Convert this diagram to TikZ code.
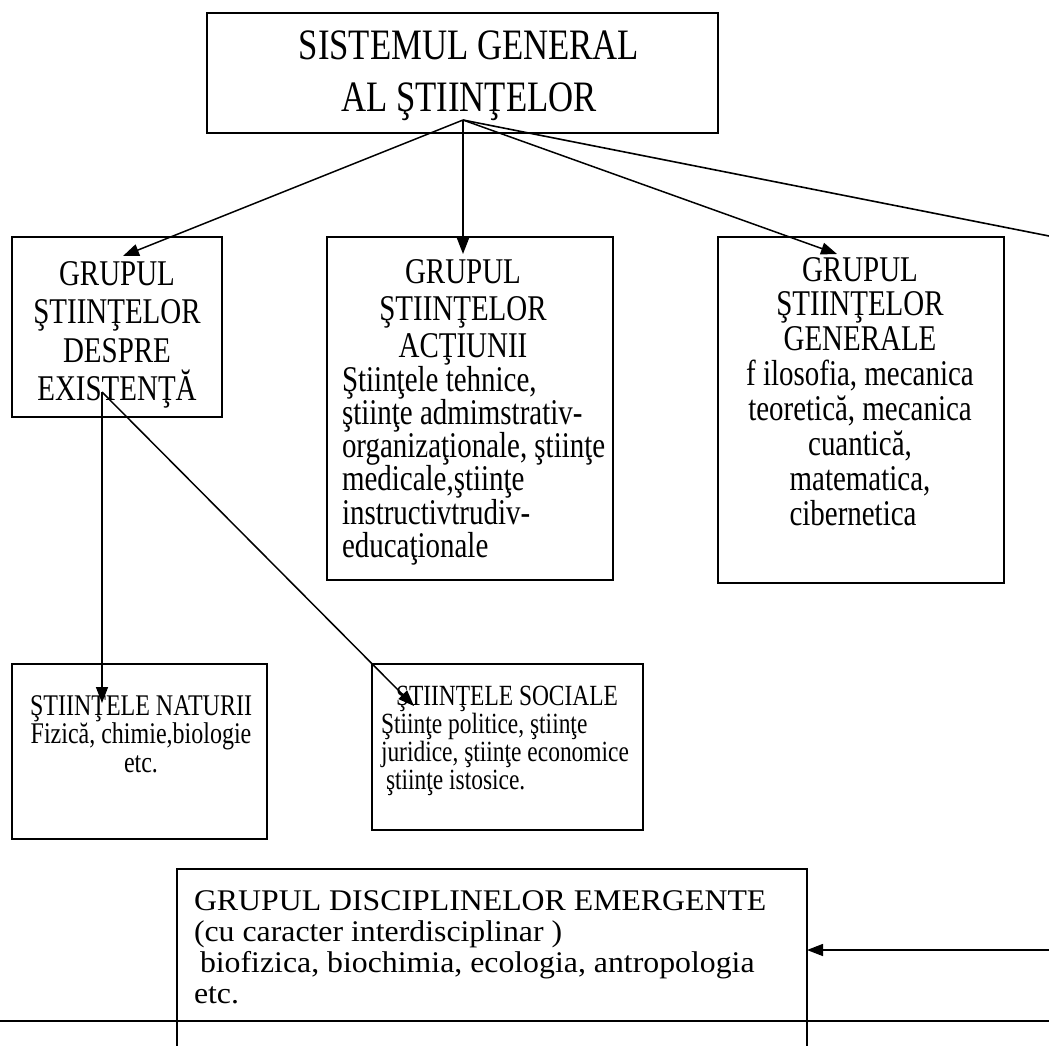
\documentclass[tikz,border=0pt]{standalone}
\usepackage{fontspec}
\setmainfont{Liberation Serif}[FakeStretch=0.8]
\newfontfamily\emfont{Liberation Serif}[FakeStretch=1.06]
\usetikzlibrary{arrows.meta}
\newcommand\mystrut{\rule{0pt}{48pt}}
\begin{document}
\begin{tikzpicture}[x=1pt,y=-1pt,
  box/.style={draw, line width=1.6pt, rectangle, inner sep=0pt, outer sep=0pt, anchor=north west},
  txt/.style={inner sep=0pt, outer sep=0pt, anchor=north},
  txtl/.style={inner sep=0pt, outer sep=0pt, anchor=north west, align=left},
  arr/.style={line width=1.5pt, -{Triangle[length=16pt,width=12pt]}},
  ln/.style={line width=1.6pt}]
\fill[white] (0,0) rectangle (1049,1045);
\useasboundingbox (0,0) rectangle (1049,1045);
\clip (0,0) rectangle (1049,1045);

% boxes
\node[box, minimum width=511pt, minimum height=120pt] (top) at (207,13) {};
\node[box, minimum width=210pt, minimum height=180pt] (exist) at (12,237) {};
\node[box, minimum width=286pt, minimum height=343pt] (actiune) at (327,237) {};
\node[box, minimum width=286pt, minimum height=346pt] (general) at (718,237) {};
\node[box, minimum width=255pt, minimum height=175pt] (natur) at (12,664) {};
\node[box, minimum width=271pt, minimum height=166pt] (social) at (372,664) {};
\node[box, minimum width=630pt, minimum height=230pt] (emer) at (177,869) {};

% texts (north = first baseline - 48)
\node[txt, align=center, font=\fontsize{43.4}{52}\selectfont] (ttop) at (469,11)
  {\mystrut SISTEMUL GENERAL\\AL ŞTIINŢELOR};
\node[txt, align=center, font=\fontsize{36.2}{38.5}\selectfont] (texist) at (117,237)
  {\mystrut GRUPUL\\ŞTIINŢELOR\\DESPRE\\EXISTENŢĂ};
\node[txt, align=center, font=\fontsize{36.2}{37}\selectfont] (tacth) at (463,235)
  {\mystrut GRUPUL\\ŞTIINŢELOR\\ACŢIUNII};
\node[txtl, font=\fontsize{36.2}{33.3}\selectfont] (tactb) at (342,343)
  {\mystrut Ştiinţele tehnice,\\ştiinţe admimstrativ-\\organizaţionale, ştiinţe\\medicale,ştiinţe\\instructivtrudiv-\\educaţionale};
\node[txt, align=center, font=\fontsize{36.2}{34.9}\selectfont] (tgen) at (860,233)
  {\mystrut GRUPUL\\ŞTIINŢELOR\\GENERALE\\f ilosofia, mecanica\hspace*{10pt}\\teoretică, mecanica\hspace*{14pt}\\cuantică,\\matematica,\\cibernetica\hspace*{14pt}};
\node[txt, align=center, font=\fontsize{30}{28.5}\selectfont] (tnat) at (141,667)
  {\mystrut ŞTIINŢELE NATURII\\Fizică, chimie,biologie\\etc.};
\node[txt, align=center, font=\fontsize{29.3}{28}\selectfont] (tsoch) at (507,657)
  {\mystrut ŞTIINŢELE SOCIALE};
\node[txtl, font=\fontsize{29.3}{28}\selectfont] (tsocb) at (381,685)
  {\mystrut Ştiinţe politice, ştiinţe\\juridice, ştiinţe economice\\\hspace*{5pt}ştiinţe istosice.};
\node[txtl, font=\emfont\fontsize{30}{31}\selectfont] (temer) at (194,862)
  {\mystrut GRUPUL DISCIPLINELOR EMERGENTE\\(cu caracter interdisciplinar )\\\hspace*{6pt}biofizica, biochimia, ecologia, antropologia\\etc.};

% connector points
\coordinate (src) at (463,120);
\coordinate (tA) at (123,256);
\coordinate (tB) at (463,254);
\coordinate (tC) at (837,254);
\coordinate (offR) at (1049,236);
\coordinate (sA) at (102,392);
\coordinate (tN) at (102,703);
\coordinate (tS) at (414,706);
\coordinate (rin) at (1049,950);
\coordinate (bl) at (0,1021);
\coordinate (br) at (1049,1021);

\draw[arr] (src) -- (tA);
\draw[arr] (src) -- (tB);
\draw[arr] (src) -- (tC);
\draw[ln] (src) -- (offR);
\draw[arr] (sA) -- (tN);
\draw[arr] (sA) -- (tS);
\draw[arr] (rin) -- (rin -| emer.east);
\draw[ln] (bl) -- (br);
\end{tikzpicture}
\end{document}
